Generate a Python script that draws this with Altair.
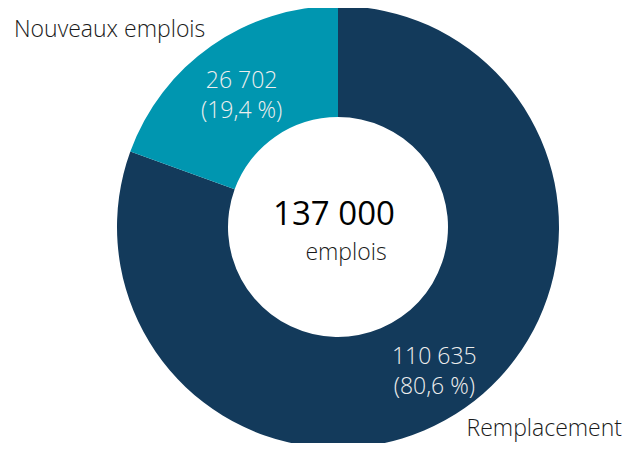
import altair as alt
import pandas as pd

categories = ["Remplacement", "Nouveaux emplois"]
values = [110635, 26702]
value_labels = ["110 635", "26 702"]
pct_labels = ["(80,6 %)", "(19,4 %)"]
order = [0, 1]
colors = ["#133A5B", "#0096B0"]

total_label = "137 000"
total_unit = "emplois"

df = pd.DataFrame({
    "cat": categories,
    "val": values,
    "lab": [[v, p] for v, p in zip(value_labels, pct_labels)],
    "ord": order,
})

CX, CY = 330, 219
FONT = "Open Sans"

base = alt.Chart(df).encode(
    theta=alt.Theta("val:Q", stack=True),
    order=alt.Order("ord:Q"),
    x=alt.value(CX),
    y=alt.value(CY),
)

arcs = base.mark_arc(outerRadius=221, innerRadius=110).encode(
    color=alt.Color("cat:N", scale=alt.Scale(domain=categories, range=colors), legend=None)
)

inner = base.mark_text(radius=168, dy=-8, font=FONT, fontSize=23, fontWeight=300,
                       color="#EEEEEE", lineHeight=30, baseline="middle").encode(
    text="lab"
)

t1 = alt.Chart(pd.DataFrame({"t": ["Nouveaux emplois"]})).mark_text(
    font=FONT, fontSize=23, fontWeight=300, color="#1A1A1A", align="left", baseline="alphabetic"
).encode(text="t:N", x=alt.value(6), y=alt.value(29))

t2 = alt.Chart(pd.DataFrame({"t": ["Remplacement"]})).mark_text(
    font=FONT, fontSize=23, fontWeight=300, color="#1A1A1A", align="right", baseline="alphabetic"
).encode(text="t:N", x=alt.value(614), y=alt.value(428))

t3 = alt.Chart(pd.DataFrame({"t": [total_label]})).mark_text(
    font=FONT, fontSize=33, fontWeight=400, color="#000000", align="center", baseline="alphabetic"
).encode(text="t:N", x=alt.value(326), y=alt.value(217))

t4 = alt.Chart(pd.DataFrame({"t": [total_unit]})).mark_text(
    font=FONT, fontSize=23, fontWeight=300, color="#1A1A1A", align="center", baseline="alphabetic"
).encode(text="t:N", x=alt.value(338), y=alt.value(252))

chart = alt.layer(arcs, inner, t1, t2, t3, t4).properties(
    width=615, height=435, padding=0, autosize=alt.AutoSizeParams(type="none")
).configure_view(stroke=None)

chart.save("out.html", embed_options={"renderer": "svg", "actions": False})
